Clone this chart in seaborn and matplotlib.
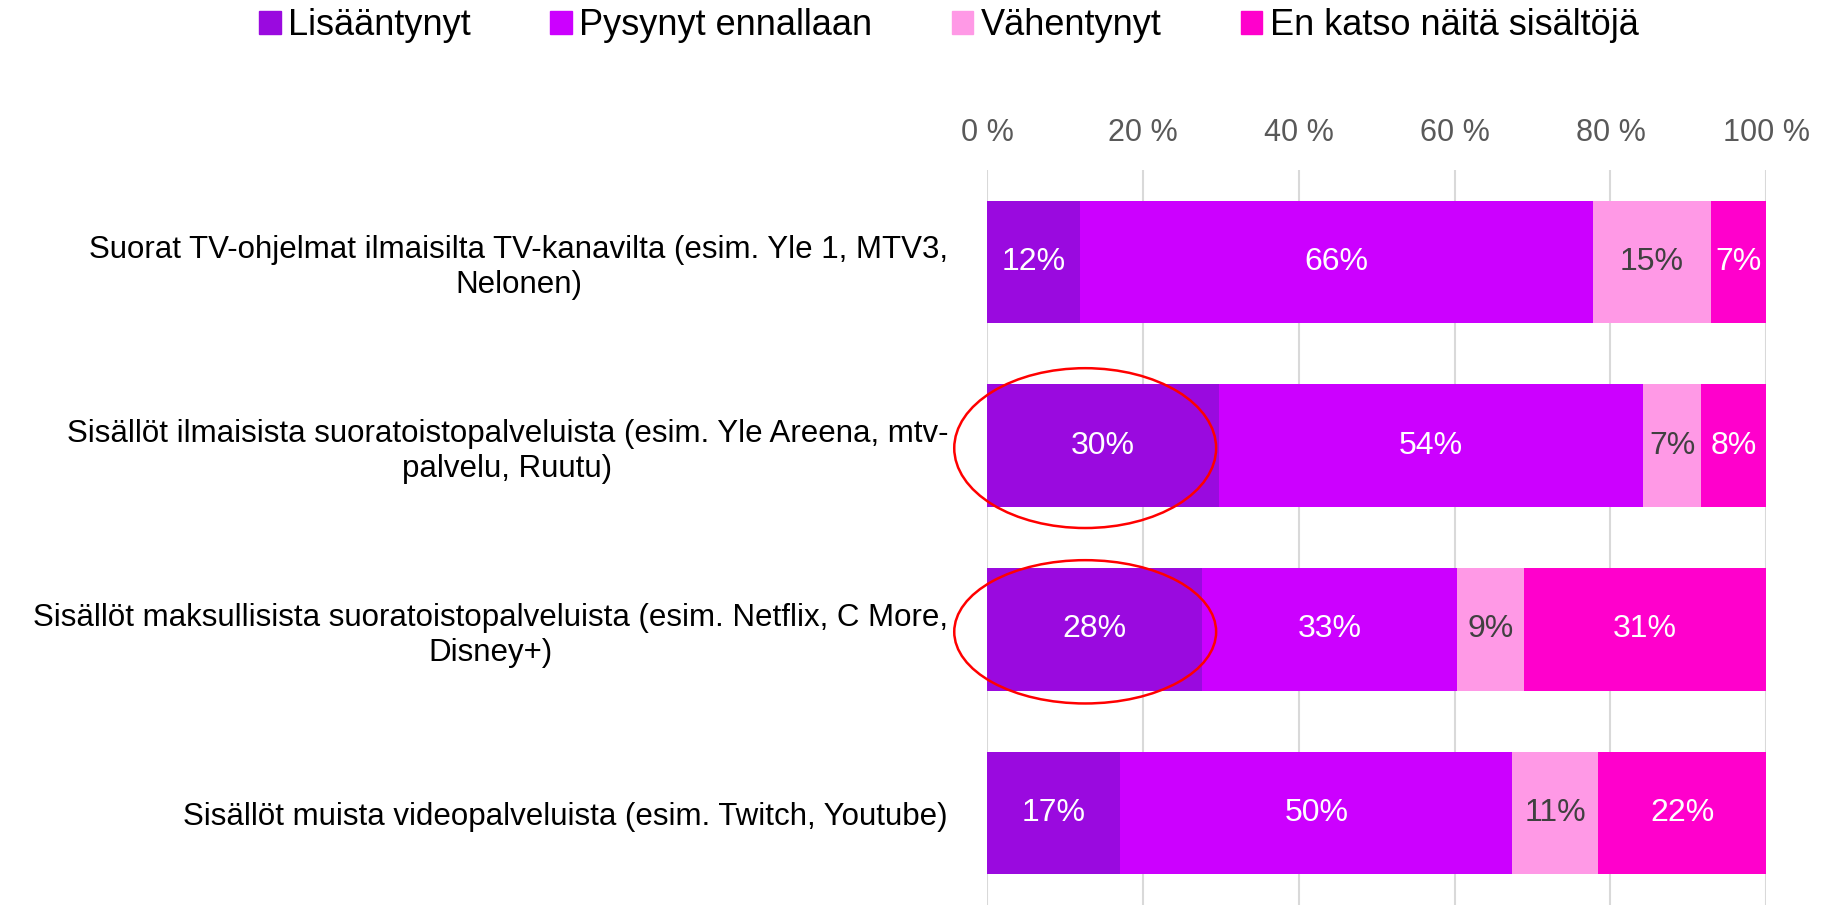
import matplotlib.pyplot as plt
import seaborn as sns
import pandas as pd
import numpy as np
from matplotlib.patches import Ellipse, Patch

categories = [
    "Suorat TV-ohjelmat ilmaisilta TV-kanavilta (esim. Yle 1, MTV3,\nNelonen)",
    "Sisällöt ilmaisista suoratoistopalveluista (esim. Yle Areena, mtv-\npalvelu, Ruutu)",
    "Sisällöt maksullisista suoratoistopalveluista (esim. Netflix, C More,\nDisney+)",
    "Sisällöt muista videopalveluista (esim. Twitch, Youtube)",
]
series = ["Lisääntynyt", "Pysynyt ennallaan", "Vähentynyt", "En katso näitä sisältöjä"]
# shares in % (labels show them rounded)
lisaantynyt = [11.9, 29.8, 27.6, 17.1]
pysynyt = [65.8, 54.4, 32.7, 50.3]
vahentynyt = [15.2, 7.4, 8.6, 11.0]
en_katso = [7.1, 8.4, 31.1, 21.6]
colors = ["#9A0ADF", "#CC00FF", "#FF99E6", "#FF00CC"]
label_colors = ["white", "white", "#404040", "white"]
xticks = [0, 20, 40, 60, 80, 100]
highlighted = [1, 2]

plt.rcParams['font.family'] = ['Liberation Sans', 'DejaVu Sans']

values = np.array([lisaantynyt, pysynyt, vahentynyt, en_katso], dtype=float)
cum = values.cumsum(axis=0)

fig = plt.figure(figsize=(18.21, 9.05), dpi=100)
ax = fig.add_axes([0.542, 0.0, 0.428, 0.812])

# stacked bars: draw cumulative totals back to front
for i in range(len(series) - 1, -1, -1):
    df = pd.DataFrame({"cat": categories, "val": cum[i]})
    sns.barplot(data=df, x="val", y="cat", orient="h", color=colors[i],
                width=0.667, linewidth=0, saturation=1, ax=ax)

for i in range(len(series)):
    for j in range(len(categories)):
        v = values[i, j]
        ax.text(cum[i, j] - v / 2, j, f"{v:.0f}%", ha="center", va="center",
                fontsize=23, color=label_colors[i])

# red circles round the highlighted segments
for j, h in zip(highlighted, [0.87, 0.78]):
    ax.add_patch(Ellipse((12.6, j + 0.013), 33.6, h, fill=False,
                         edgecolor="#FF0000", linewidth=1.8, clip_on=False))

ax.set_xlim(0, 100)
ax.set_ylim(3.5, -0.5)
ax.set_xticks(xticks)
ax.set_xticklabels([f"{t} %" for t in xticks])
ax.xaxis.tick_top()
ax.tick_params(axis="x", length=0, pad=16, labelsize=22, labelcolor="#595959")
ax.tick_params(axis="y", length=0, pad=28, labelsize=22.5, labelcolor="black")
for lab in ax.get_yticklabels():
    lab.set_horizontalalignment("right")
    lab.set_multialignment("center")
ax.set_xlabel("")
ax.set_ylabel("")
ax.grid(axis="x", color="#D9D9D9", linewidth=1.5)
ax.set_axisbelow(True)
for s in ax.spines.values():
    s.set_visible(False)

handles = [Patch(color=c, label=l) for c, l in zip(colors, series)]
fig.legend(handles=handles, loc="center", bbox_to_anchor=(0.521, 0.972), ncol=4,
           frameon=False, fontsize=26, handlelength=0.6, handleheight=0.6,
           handletextpad=0.2, columnspacing=2.2)

plt.savefig("out.png", dpi=100)
